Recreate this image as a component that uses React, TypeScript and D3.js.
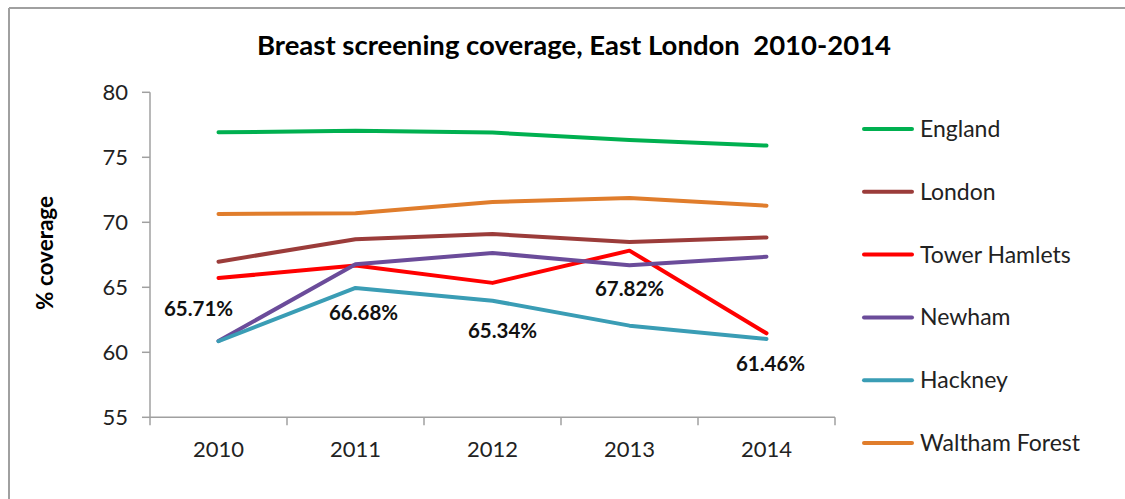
import React from 'react';
import * as d3 from 'd3';

const years = ['2010', '2011', '2012', '2013', '2014'];
const yTicks = [55, 60, 65, 70, 75, 80];

const seriesNames = ['England', 'London', 'Tower Hamlets', 'Newham', 'Hackney', 'Waltham Forest'];
const seriesColors = ['#00b050', '#9b3c3a', '#ff0000', '#6b4c9a', '#3a9db5', '#e07d2c'];

const england = [76.92, 77.05, 76.9, 76.33, 75.9];
const london = [66.97, 68.69, 69.1, 68.48, 68.84];
const towerHamlets = [65.71, 66.68, 65.34, 67.82, 61.46];
const newham = [60.87, 66.77, 67.64, 66.69, 67.35];
const hackney = [60.85, 64.95, 63.97, 62.05, 61.02];
const walthamForest = [70.64, 70.69, 71.56, 71.87, 71.28];

const seriesValues = [england, london, towerHamlets, newham, hackney, walthamForest];

// hand-placed label offsets (like the Excel original)
const labelDx = [-20, 8, 10, 0, 4];
const labelDy = [31, 47, 48, 38, 31];

const W = 1125;
const H = 499;
const font = 'Lato, "Liberation Sans", sans-serif';

const App: React.FC = () => {
  const x = d3.scaleBand<string>().domain(years).range([150, 835]);
  const y = d3.scaleLinear().domain([55, 80]).range([417.3, 92.3]);

  const line = d3.line<number>()
    .x((_, i) => (x(years[i]) as number) + x.bandwidth() / 2)
    .y((d) => y(d));

  const cx = (i: number) => (x(years[i]) as number) + x.bandwidth() / 2;
  const legendY = d3.scalePoint<string>().domain(seriesNames).range([129, 443]);

  return (
    <svg width={W} height={H} style={{ position: 'absolute', left: 0, top: 0 }}>
      <rect x={0} y={0} width={W} height={H} fill="#fff" />
      {/* frame */}
      <line x1={9} x2={W} y1={8} y2={8} stroke="#a0a0a0" strokeWidth={2} />
      <line x1={9} x2={9} y1={8} y2={H} stroke="#a0a0a0" strokeWidth={2} />

      <text
        x={574}
        y={55}
        textAnchor="middle"
        fontFamily={font}
        fontWeight="bold"
        fontSize={27.5}
        fill="#000"
        style={{ whiteSpace: 'pre' }}
      >
        {'Breast screening coverage, East London  2010-2014'}
      </text>

      {/* y axis */}
      <line x1={150} x2={150} y1={y(80)} y2={y(55)} stroke="#a0a0a0" strokeWidth={1.5} />
      {yTicks.map((t) => (
        <g key={t}>
          <line x1={142} x2={150} y1={y(t)} y2={y(t)} stroke="#a0a0a0" strokeWidth={1.5} />
          <text x={128} y={y(t)} dy="0.35em" textAnchor="end" fontFamily={font} fontSize={22} fill="#222">
            {t}
          </text>
        </g>
      ))}
      <text
        transform="translate(53,253) rotate(-90)"
        textAnchor="middle"
        fontFamily={font}
        fontWeight="bold"
        fontSize={22.5}
        fill="#000"
      >
        % coverage
      </text>

      {/* x axis */}
      <line x1={150} x2={835} y1={y(55)} y2={y(55)} stroke="#a0a0a0" strokeWidth={1.5} />
      {[...years.map((yr) => x(yr) as number), 835].map((px, i) => (
        <line key={i} x1={px} x2={px} y1={y(55)} y2={y(55) + 8} stroke="#a0a0a0" strokeWidth={1.5} />
      ))}
      {years.map((yr, i) => (
        <text key={yr} x={cx(i)} y={449} dy="0.35em" textAnchor="middle" fontFamily={font} fontSize={22} fill="#222">
          {yr}
        </text>
      ))}

      {/* series lines */}
      {seriesValues.map((vals, s) => (
        <path
          key={seriesNames[s]}
          d={line(vals) || ''}
          fill="none"
          stroke={seriesColors[s]}
          strokeWidth={4}
          strokeLinejoin="round"
          strokeLinecap="round"
        />
      ))}

      {/* Tower Hamlets labels */}
      {towerHamlets.map((v, i) => (
        <text
          key={i}
          x={cx(i) + labelDx[i]}
          y={y(v) + labelDy[i]}
          dy="0.35em"
          textAnchor="middle"
          fontFamily={font}
          fontWeight="bold"
          fontSize={20.5}
          fill="#111"
        >
          {v.toFixed(2)}%
        </text>
      ))}

      {/* legend */}
      {seriesNames.map((name, s) => (
        <g key={name} transform={`translate(0,${legendY(name)})`}>
          <line x1={864} x2={912} y1={0} y2={0} stroke={seriesColors[s]} strokeWidth={4} strokeLinecap="round" />
          <text x={920} y={0} dy="0.35em" fontFamily={font} fontSize={23} fill="#222">
            {name}
          </text>
        </g>
      ))}
    </svg>
  );
};

export default App;
